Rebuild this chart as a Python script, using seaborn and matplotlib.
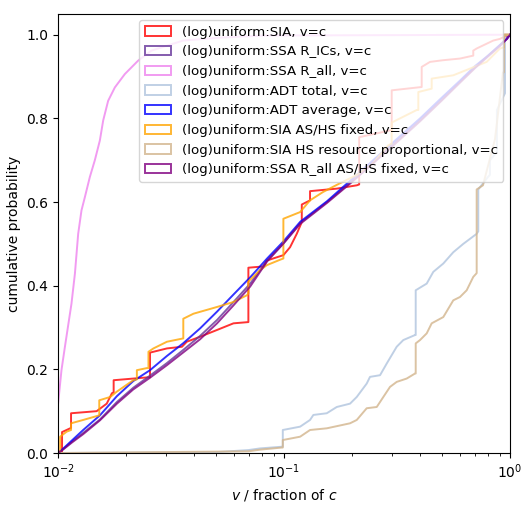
import numpy as np
import pandas as pd
import matplotlib
matplotlib.use('Agg')
import matplotlib.pyplot as plt
import matplotlib.patches as mpatches
import seaborn as sns

# legend labels and colours, in plotting order
labels = [
    '(log)uniform:SIA, v=c',
    '(log)uniform:SSA R_ICs, v=c',
    '(log)uniform:SSA R_all, v=c',
    '(log)uniform:ADT total, v=c',
    '(log)uniform:ADT average, v=c',
    '(log)uniform:SIA AS/HS fixed, v=c',
    '(log)uniform:SIA HS resource proportional, v=c',
    '(log)uniform:SSA R_all AS/HS fixed, v=c',
]
colors = ['red', 'rebeccapurple', 'violet', 'lightsteelblue',
          'blue', 'orange', 'tan', 'purple']

# cumulative curves (x = v/c, y = cumulative probability)
sia_x = [0.01, 0.0104, 0.0104, 0.0114, 0.0114, 0.0148, 0.0164, 0.0173, 0.0176, 0.0176,
         0.0251, 0.0255, 0.0255, 0.0303, 0.0353, 0.0371, 0.0425, 0.0504, 0.0597, 0.0695,
         0.0695, 0.081, 0.0838, 0.0993, 0.1063, 0.1138, 0.1198, 0.1198, 0.1303, 0.1303,
         0.171, 0.21, 0.215, 0.215, 0.2995, 0.2995, 0.4067, 0.4067, 0.4426, 0.505,
         0.601, 0.688, 0.688, 0.712, 0.843, 0.903, 0.967, 1.0]
sia_y = [0, 0, 0.05, 0.06, 0.095, 0.10, 0.118, 0.143, 0.145, 0.174,
         0.181, 0.181, 0.24, 0.25, 0.254, 0.266, 0.278, 0.294, 0.31, 0.313,
         0.443, 0.446, 0.46, 0.473, 0.492, 0.524, 0.552, 0.594, 0.604, 0.626,
         0.632, 0.64, 0.642, 0.755, 0.772, 0.867, 0.875, 0.923, 0.935, 0.939,
         0.943, 0.95, 0.962, 0.967, 0.986, 0.99, 0.998, 1.0]

common_x = [0.01, 0.0105, 0.0115, 0.0129, 0.0153, 0.0182, 0.0215, 0.0255, 0.0303, 0.0357,
            0.0425, 0.0505, 0.0595, 0.0708, 0.0841, 0.099, 0.118, 0.155, 0.2, 0.3,
            0.4, 0.5, 0.6, 0.7, 0.8, 0.9, 0.97, 1.0]
ssa_ics_y = [0, 0.009, 0.027, 0.048, 0.08, 0.122, 0.156, 0.185, 0.215, 0.246,
             0.28, 0.318, 0.36, 0.405, 0.46, 0.50, 0.55, 0.60, 0.65, 0.736,
             0.796, 0.846, 0.887, 0.922, 0.95, 0.974, 0.992, 1.0]
adt_avg_y = [0, 0.01, 0.03, 0.055, 0.09, 0.136, 0.172, 0.198, 0.232, 0.262,
             0.298, 0.338, 0.378, 0.42, 0.465, 0.505, 0.553, 0.602, 0.655, 0.74,
             0.80, 0.85, 0.89, 0.925, 0.95, 0.975, 0.99, 1.0]
ssa_all_fixed_y = [0, 0.008, 0.025, 0.045, 0.078, 0.118, 0.152, 0.18, 0.21, 0.24,
                   0.272, 0.31, 0.352, 0.398, 0.458, 0.50, 0.548, 0.598, 0.648, 0.732,
                   0.793, 0.843, 0.885, 0.92, 0.948, 0.972, 0.99, 1.0]

ssa_all_x = [0.0100, 0.01034, 0.01071, 0.01145, 0.01186, 0.01226, 0.01268, 0.01313, 0.01381, 0.01453,
             0.01529, 0.01582, 0.01664, 0.01782, 0.01973, 0.02259, 0.02588, 0.03573, 0.0521, 0.0807,
             0.3, 1.0]
ssa_all_y = [0.12, 0.198, 0.254, 0.357, 0.429, 0.524, 0.58, 0.612, 0.66, 0.70,
             0.747, 0.795, 0.842, 0.874, 0.906, 0.938, 0.962, 0.986, 0.993, 0.998,
             0.999, 1.0]

adt_total_x = [0.01, 0.05, 0.0695, 0.0783, 0.0977, 0.0987, 0.0987, 0.1178, 0.1303, 0.1348,
               0.1545, 0.1711, 0.1959, 0.2098, 0.2322, 0.2401, 0.266, 0.2848, 0.3152, 0.3372,
               0.3799, 0.3826, 0.3826, 0.428, 0.4577, 0.5069, 0.5612, 0.6215, 0.7123, 0.724,
               0.724, 0.7993, 0.8156, 0.8156, 0.8759, 0.8759, 0.9311, 0.9504, 0.9504, 1.0]
adt_total_y = [0, 0.002, 0.007, 0.011, 0.015, 0.015, 0.055, 0.063, 0.079, 0.091,
               0.095, 0.11, 0.118, 0.134, 0.166, 0.182, 0.186, 0.214, 0.254, 0.27,
               0.282, 0.282, 0.389, 0.405, 0.433, 0.453, 0.48, 0.50, 0.524, 0.53,
               0.63, 0.66, 0.665, 0.70, 0.72, 0.82, 0.85, 0.86, 1.0, 1.0]

sia_fixed_x = [0.01, 0.0102, 0.0102, 0.0109, 0.0114, 0.0114, 0.0129, 0.0152, 0.0152, 0.0170,
               0.0181, 0.0215, 0.0223, 0.0223, 0.0247, 0.0251, 0.0251, 0.0264, 0.0303, 0.0358,
               0.0358, 0.0397, 0.0504, 0.0597, 0.0684, 0.0695, 0.0695, 0.0783, 0.0838, 0.0960,
               0.0993, 0.0993, 0.1178, 0.1303, 0.1488, 0.1769, 0.2104, 0.2451, 0.2885, 0.2995,
               0.2995, 0.3866, 0.3929, 0.3929, 0.4503, 0.4503, 0.5612, 0.6653, 0.7885, 0.903,
               0.941, 0.941, 1.0]
sia_fixed_y = [0, 0, 0.039, 0.051, 0.055, 0.071, 0.079, 0.09, 0.126, 0.134,
               0.146, 0.174, 0.176, 0.198, 0.203, 0.203, 0.242, 0.25, 0.266, 0.274,
               0.321, 0.333, 0.349, 0.361, 0.377, 0.381, 0.41, 0.437, 0.449, 0.462,
               0.465, 0.56, 0.576, 0.604, 0.624, 0.645, 0.665, 0.69, 0.735, 0.74,
               0.79, 0.82, 0.82, 0.863, 0.871, 0.895, 0.903, 0.919, 0.935, 0.967,
               0.97, 1.0, 1.0]

sia_hs_x = [0.01, 0.0695, 0.0783, 0.0977, 0.0987, 0.0987, 0.1178, 0.1303, 0.1545, 0.1959,
            0.2098, 0.2322, 0.2572, 0.2751, 0.2944, 0.3152, 0.3491, 0.3799, 0.3826, 0.3826,
            0.3998, 0.428, 0.4503, 0.5069, 0.5612, 0.601, 0.6433, 0.688, 0.7123, 0.7123,
            0.7595, 0.8583, 0.9311, 0.9408, 0.9408, 1.0]
sia_hs_y = [0, 0.004, 0.008, 0.013, 0.013, 0.031, 0.039, 0.055, 0.059, 0.071,
            0.079, 0.107, 0.11, 0.134, 0.158, 0.17, 0.178, 0.19, 0.19, 0.262,
            0.27, 0.286, 0.31, 0.325, 0.365, 0.373, 0.389, 0.421, 0.43, 0.63,
            0.64, 0.75, 0.91, 0.91, 1.0, 1.0]

curves = [
    (sia_x, sia_y),
    (common_x, ssa_ics_y),
    (ssa_all_x, ssa_all_y),
    (adt_total_x, adt_total_y),
    (common_x, adt_avg_y),
    (sia_fixed_x, sia_fixed_y),
    (sia_hs_x, sia_hs_y),
    (common_x, ssa_all_fixed_y),
]

fig, ax = plt.subplots(figsize=(5.29, 5.11), dpi=100)
fig.subplots_adjust(left=0.110, right=0.964, top=0.973, bottom=0.1135)
ax.set_xscale('log')

handles = []
for (xs, ys), lab, col in zip(curves, labels, colors):
    df = pd.DataFrame({'v': xs, 'p': ys})
    sns.lineplot(data=df, x='v', y='p', ax=ax, color=col, sort=False,
                 estimator=None, alpha=0.8, linewidth=1.4)
    handles.append(mpatches.Patch(facecolor='none', edgecolor=col, alpha=0.8,
                                  linewidth=1.4, label=lab))

ax.set_xlim(1e-2, 1)
ax.set_ylim(0, 1.05)
ax.set_xlabel(r'$v$ / fraction of $c$')
ax.set_ylabel('cumulative probability')
ax.legend(handles=handles, loc='upper right', fontsize=9.6)

fig.savefig('out.png', dpi=100)
